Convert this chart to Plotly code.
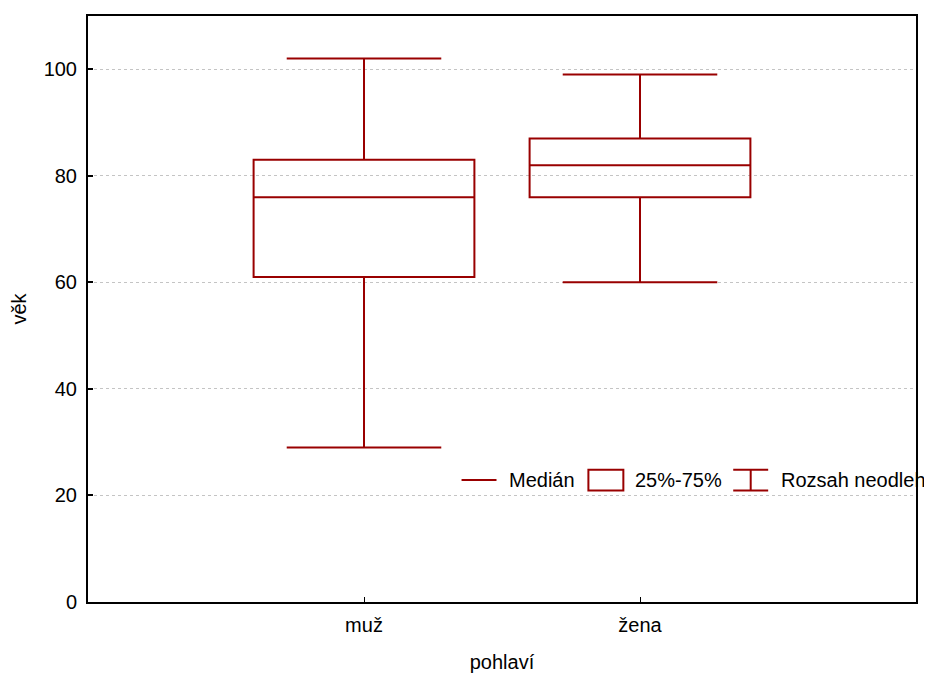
import plotly.graph_objects as go

categories = ["muž", "žena"]
minimum = [29, 60]
q1 = [61, 76]
median = [76, 82]
q3 = [83, 87]
maximum = [102, 99]
y_ticks = [0, 20, 40, 60, 80, 100]
legend_labels = ["Medián", "25%-75%", "Rozsah neodleh"]

RED = "#990000"
FONT = "Liberation Sans, Arial, sans-serif"
FS = 20

# page has an 8px body margin; compensate so the plot lands where the reference is
OFF = 8
W, H = 932 - OFF, 676 - OFF
L, R, T, B = 87 - OFF, 16, 14 - OFF, 73
PW, PH = W - L - R, H - T - B


def px(x):
    return (x - OFF - L) / PW


def py(y):
    return (H - B - (y - OFF)) / PH


fig = go.Figure()
fig.add_trace(go.Box(
    x=categories,
    q1=q1, median=median, q3=q3,
    lowerfence=minimum, upperfence=maximum,
    width=0.8, whiskerwidth=0.7,
    line=dict(color=RED, width=2),
    fillcolor="rgba(255,255,255,0)",
    boxpoints=False,
    showlegend=False,
    hoverinfo="skip",
))

shapes = []
line = dict(color=RED, width=2)
# legend: median line
shapes.append(dict(type="line", xref="paper", yref="paper",
                   x0=px(461), x1=px(496), y0=py(480.5), y1=py(480.5), line=line))
# legend: box
shapes.append(dict(type="rect", xref="paper", yref="paper",
                   x0=px(588), x1=px(623), y0=py(491), y1=py(470), line=line,
                   fillcolor="white"))
# legend: whisker
for yy in (470, 491):
    shapes.append(dict(type="line", xref="paper", yref="paper",
                       x0=px(733), x1=px(768), y0=py(yy), y1=py(yy), line=line))
shapes.append(dict(type="line", xref="paper", yref="paper",
                   x0=px(750.5), x1=px(750.5), y0=py(470), y1=py(491), line=line))

annotations = []
for lab, xx in zip(legend_labels, [507, 633, 779]):
    annotations.append(dict(text=lab, xref="paper", yref="paper",
                            x=px(xx), y=py(480.5), xanchor="left", yanchor="middle",
                            showarrow=False, font=dict(family=FONT, size=FS, color="black")))

fig.update_layout(
    width=W, height=H,
    margin=dict(l=L, r=R, t=T, b=B),
    paper_bgcolor="white", plot_bgcolor="white",
    font=dict(family=FONT, size=FS, color="black"),
    shapes=shapes,
    annotations=annotations,
    xaxis=dict(
        type="category", range=[-1, 2],
        showline=True, linecolor="black", linewidth=2, mirror=True,
        ticks="inside", ticklen=5, tickcolor="black", tickwidth=1,
        ticklabelstandoff=4,
        showgrid=False, zeroline=False,
        title=dict(text="pohlaví", font=dict(family=FONT, size=FS), standoff=20),
        tickfont=dict(family=FONT, size=FS),
    ),
    yaxis=dict(
        range=[0, 110], tickvals=y_ticks,
        showline=True, linecolor="black", linewidth=2, mirror=True,
        ticks="inside", ticklen=5, tickcolor="black", tickwidth=2,
        ticklabelstandoff=5,
        showgrid=True, gridcolor="#c4c4c4", griddash="dot", gridwidth=1,
        zeroline=False,
        title=dict(text="věk", font=dict(family=FONT, size=FS), standoff=16),
        tickfont=dict(family=FONT, size=FS),
    ),
)

fig.write_html("out.html")
